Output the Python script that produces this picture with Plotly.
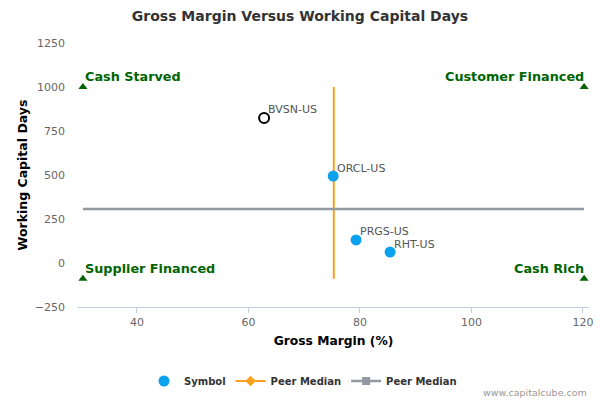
import plotly.graph_objects as go

# Data
symbols = ["ORCL-US", "PRGS-US", "RHT-US"]
gross_margin = [75.2, 79.3, 85.4]
wc_days = [494, 131, 62]

focus_symbol = ["BVSN-US"]
focus_margin = [62.8]
focus_days = [824]

peer_median_margin = 75.3
peer_median_days = 307

quadrant_labels = ["Cash Starved", "Supplier Financed", "Customer Financed", "Cash Rich"]
quadrant_x = [30.3, 30.3, 120.2, 120.2]
quadrant_y = [1000, -90, 1000, -90]

x_ticks = [40, 60, 80, 100, 120]
y_ticks = [-250, 0, 250, 500, 750, 1000, 1250]

FONT = "DejaVu Sans"
BLUE = "#0AA1EE"
ORANGE = "#F9A01E"
GRAY = "#9299A3"
GREEN = "#006400"

fig = go.Figure()

# Peer median lines (drawn)
fig.add_trace(go.Scatter(
    x=[peer_median_margin, peer_median_margin], y=[quadrant_y[0], quadrant_y[1]],
    mode="lines", line=dict(color=ORANGE, width=2), showlegend=False, hoverinfo="skip"))
fig.add_trace(go.Scatter(
    x=[quadrant_x[0], quadrant_x[2]], y=[peer_median_days, peer_median_days],
    mode="lines", line=dict(color=GRAY, width=2.5), showlegend=False, hoverinfo="skip"))

# Quadrant markers
fig.add_trace(go.Scatter(
    x=quadrant_x, y=quadrant_y, mode="markers",
    marker=dict(symbol="triangle-up", size=8, color=GREEN),
    showlegend=False, hoverinfo="skip"))

# Symbol points
fig.add_trace(go.Scatter(
    x=gross_margin, y=wc_days, mode="markers", name="<b>Symbol</b>",
    marker=dict(size=11, color=BLUE)))
fig.add_trace(go.Scatter(
    x=focus_margin, y=focus_days, mode="markers", name="Symbol",
    marker=dict(size=10, color="white", line=dict(color="black", width=2)),
    showlegend=False))

# Legend-only entries for peer medians
fig.add_trace(go.Scatter(
    x=[None], y=[None], mode="lines+markers", name="<b>Peer Median</b>",
    line=dict(color=ORANGE, width=2), marker=dict(symbol="diamond", size=8, color=ORANGE)))
fig.add_trace(go.Scatter(
    x=[None], y=[None], mode="lines+markers", name="<b>Peer Median</b>",
    line=dict(color=GRAY, width=2.5), marker=dict(symbol="square", size=8, color=GRAY)))

# Point labels
for lbl, px, py in zip(focus_symbol + symbols, focus_margin + gross_margin, focus_days + wc_days):
    fig.add_annotation(
        x=px, y=py, text=lbl, showarrow=False, xanchor="left", yanchor="middle",
        xshift=2, yshift=8, font=dict(family=FONT, size=11, color="#555555"))

# Quadrant labels
for lbl, qx, qy in zip(quadrant_labels, quadrant_x, quadrant_y):
    left = qx == quadrant_x[0]
    fig.add_annotation(
        x=qx, y=qy, text="<b>%s</b>" % lbl, showarrow=False,
        xanchor="left" if left else "right", yanchor="bottom",
        xshift=0 if left else 2, yshift=1,
        font=dict(family=FONT, size=12.8, color=GREEN))

fig.add_annotation(
    text="www.capitalcube.com", xref="paper", yref="paper", x=1.0, y=-0.322,
    xanchor="right", yanchor="middle", showarrow=False,
    font=dict(family=FONT, size=9.5, color="#999999"))

fig.update_layout(
    width=600, height=400,
    margin=dict(l=78, r=11, t=43, b=93, autoexpand=False),
    plot_bgcolor="white", paper_bgcolor="white",
    font=dict(family=FONT, color="#333333"),
    title=dict(text="<b>Gross Margin Versus Working Capital Days</b>",
               x=0.5, xanchor="center", y=1 - 16 / 400, yanchor="middle",
               font=dict(family=FONT, size=14, color="#333333")),
    xaxis=dict(range=[29.42, 121.08], tickvals=x_ticks, showgrid=False, zeroline=False,
               showline=True, linecolor="#C0D0E0", linewidth=1, automargin=False,
               ticks="outside", ticklen=5, tickcolor="#C0D0E0",
               tickfont=dict(family=FONT, size=11, color="#666666"),
               title=dict(text="<b>Gross Margin (%)</b>", standoff=8,
                          font=dict(family=FONT, size=12.3, color="#000000"))),
    yaxis=dict(range=[-250, 1250], tickvals=y_ticks, showgrid=False, zeroline=False,
               showline=False, ticks="", automargin=False, ticklabelstandoff=12,
               tickfont=dict(family=FONT, size=11, color="#666666"),
               title=dict(text="<b>Working Capital Days</b>", standoff=4,
                          font=dict(family=FONT, size=12.5, color="#000000"))),
    legend=dict(orientation="h", xref="container", yref="container",
                x=0.505, xanchor="center", y=1 - 381 / 400, yanchor="middle",
                font=dict(family=FONT, size=10, color="#333333"),
                itemwidth=30, tracegroupgap=0),
    showlegend=True,
)

fig.write_html("out.html", config={"displayModeBar": False},
               post_script="document.body.style.margin='0';")
